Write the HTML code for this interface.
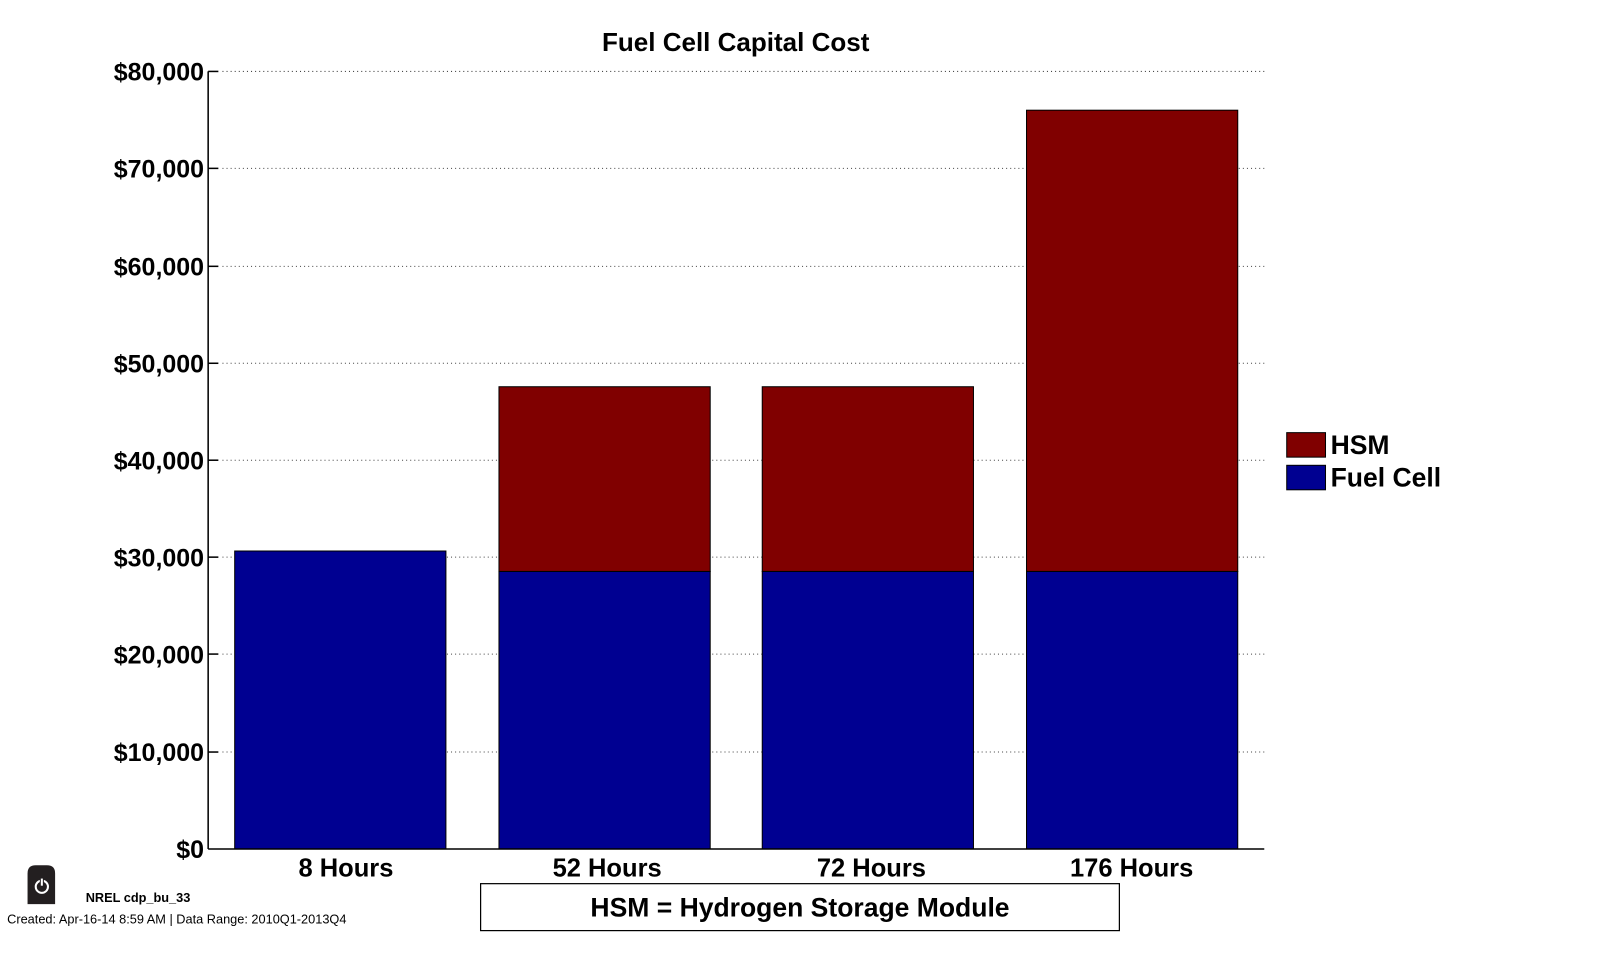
<!DOCTYPE html>
<html><head><style>
body{margin:0;background:#fff;}
svg text{font-family:"Liberation Sans",Arial,sans-serif;}
</style></head><body>
<svg width="1599" height="954" xmlns="http://www.w3.org/2000/svg">
<rect width="1599" height="954" fill="#fff"/>
<g transform="scale(1.0204)">
<text x="721" y="50" font-size="25.5" font-weight="bold" text-anchor="middle">Fuel Cell Capital Cost</text>
<g stroke="#444" stroke-width="1" stroke-dasharray="1,3">
<line x1="218" y1="70" x2="1239" y2="70"/>
<line x1="218" y1="165" x2="1239" y2="165"/>
<line x1="218" y1="261" x2="1239" y2="261"/>
<line x1="218" y1="356" x2="1239" y2="356"/>
<line x1="218" y1="451" x2="1239" y2="451"/>
<line x1="218" y1="546" x2="1239" y2="546"/>
<line x1="218" y1="641" x2="1239" y2="641"/>
<line x1="218" y1="737" x2="1239" y2="737"/>
</g>
<g stroke="#000" stroke-width="1">
<rect x="230" y="540" width="207" height="292" fill="#000091"/>
<rect x="489" y="560" width="207" height="272" fill="#000091"/>
<rect x="489" y="379" width="207" height="181" fill="#800000"/>
<rect x="747" y="560" width="207" height="272" fill="#000091"/>
<rect x="747" y="379" width="207" height="181" fill="#800000"/>
<rect x="1006" y="560" width="207" height="272" fill="#000091"/>
<rect x="1006" y="108" width="207" height="452" fill="#800000"/>
</g>
<g stroke="#000" stroke-width="1.5">
<line x1="204" y1="70" x2="204" y2="832"/>
<line x1="204" y1="832" x2="1239" y2="832"/>
<line x1="204" y1="70" x2="214" y2="70"/><line x1="204" y1="165" x2="214" y2="165"/>
<line x1="204" y1="261" x2="214" y2="261"/><line x1="204" y1="356" x2="214" y2="356"/>
<line x1="204" y1="451" x2="214" y2="451"/><line x1="204" y1="546" x2="214" y2="546"/>
<line x1="204" y1="641" x2="214" y2="641"/><line x1="204" y1="737" x2="214" y2="737"/>
</g>
<g font-size="24.5" font-weight="bold" text-anchor="end">
<text x="200" y="79">$80,000</text>
<text x="200" y="174">$70,000</text>
<text x="200" y="270">$60,000</text>
<text x="200" y="365">$50,000</text>
<text x="200" y="460">$40,000</text>
<text x="200" y="555">$30,000</text>
<text x="200" y="650">$20,000</text>
<text x="200" y="746">$10,000</text>
<text x="200" y="841">$0</text>
</g>
<g font-size="25" font-weight="bold" text-anchor="middle">
<text x="339" y="859">8 Hours</text>
<text x="595" y="859">52 Hours</text>
<text x="854" y="859">72 Hours</text>
<text x="1109" y="859">176 Hours</text>
</g>
<rect x="1261" y="424" width="38" height="24" fill="#800000" stroke="#000"/>
<rect x="1261" y="456" width="38" height="24" fill="#000091" stroke="#000"/>
<text x="1304" y="445" font-size="26" font-weight="bold">HSM</text>
<text x="1304" y="477" font-size="26" font-weight="bold">Fuel Cell</text>
<rect x="471" y="866" width="626" height="46" fill="#fff" stroke="#000" stroke-width="1.2"/>
<text x="784" y="898" font-size="26" font-weight="bold" text-anchor="middle">HSM = Hydrogen Storage Module</text>
<path d="M27,886 V856 Q27,848 35,848 H46 Q54,848 54,856 V886 Z" fill="#231f20"/>
<circle cx="41" cy="869" r="6" fill="none" stroke="#fff" stroke-width="2"/>
<line x1="41" y1="860" x2="41" y2="868" stroke="#231f20" stroke-width="4"/>
<line x1="41" y1="861" x2="41" y2="868" stroke="#fff" stroke-width="2"/>
<text x="84" y="884" font-size="12.5" font-weight="bold">NREL cdp_bu_33</text>
<text x="7" y="905" font-size="12.5">Created: Apr-16-14  8:59 AM | Data Range: 2010Q1-2013Q4</text>
</g>
</svg>
</body></html>
